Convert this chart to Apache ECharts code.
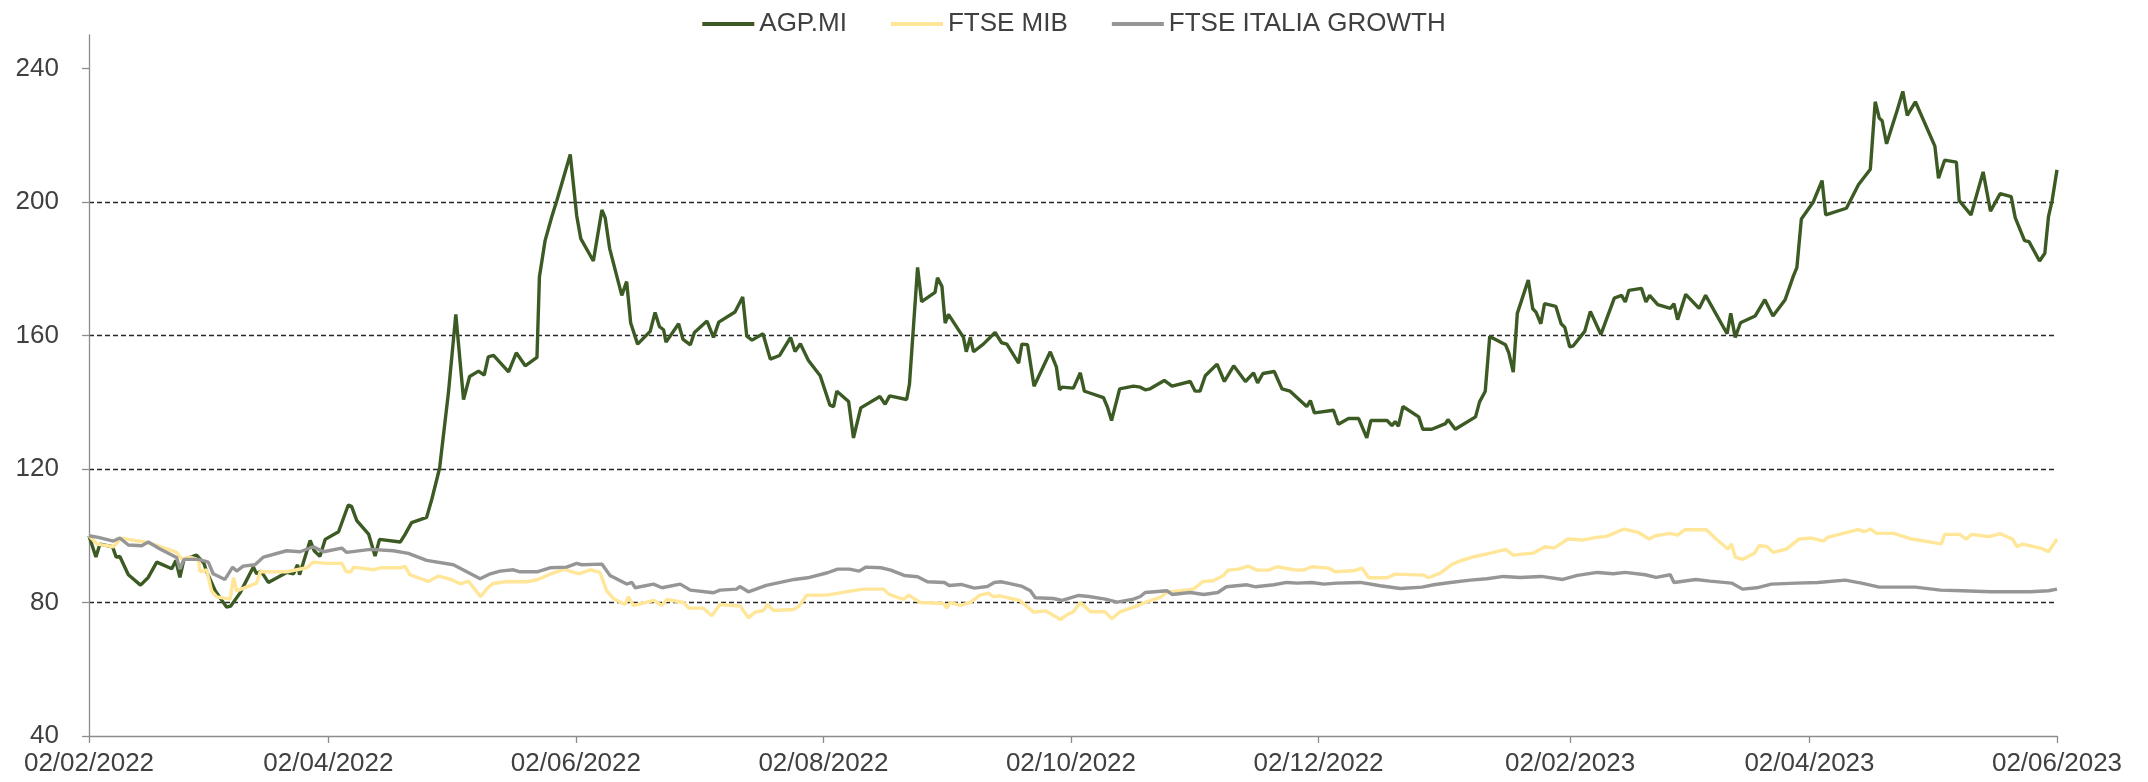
<!DOCTYPE html>
<html>
<head>
<meta charset="utf-8">
<title>AGP.MI vs FTSE MIB vs FTSE ITALIA GROWTH</title>
<script src="https://cdn.jsdelivr.net/npm/echarts@6/dist/echarts.min.js"></script>
<style>
  html, body { margin: 0; padding: 0; background: #fff; }
  #main { width: 2148px; height: 782px; }
</style>
</head>
<body>
<div id="main"></div>
<script>
// rebased to 100 on 02/02/2022, x = days since that date
var startDate = '2022-02-02';
var tickDates = ['2022-02-02', '2022-04-02', '2022-06-02', '2022-08-02', '2022-10-02',
                 '2022-12-02', '2023-02-02', '2023-04-02', '2023-06-02'];
var tickLabels = ['02/02/2022', '02/04/2022', '02/06/2022', '02/08/2022', '02/10/2022',
                  '02/12/2022', '02/02/2023', '02/04/2023', '02/06/2023'];
var yTicks = [40, 80, 120, 160, 200, 240];
var seriesNames = ['AGP.MI', 'FTSE MIB', 'FTSE ITALIA GROWTH'];

var dayAGP = [
  0, 1.7, 2.7, 5.8, 6.7, 7.6, 9.7, 12.7, 14.6, 16.7,
  20.4, 21.4, 22.4, 23.4, 26.5, 28.3, 29, 31.1, 33.9, 34.9,
  37.2, 40.5, 41.3, 42.4, 44.2, 48.7, 50.4, 51.4, 51.9, 54.5,
  55.5, 56.9, 58.2, 61.5, 63.9, 64.7, 66, 68.9, 70.5, 71.6,
  76.7, 77.9, 79.5, 83.2, 84.5, 86.4, 88.6, 90.4, 92.3, 93.8,
  96, 97.4, 98.4, 99.7, 103.4, 105.3, 107.5, 110.4, 111, 112.4,
  114.1, 115.3, 118.6, 120.2, 121.2, 124.3, 126.4, 127.2, 128.3, 131.3,
  132.5, 133.5, 135.2, 138.3, 139.5, 140.6, 141.6, 142.2, 145.3, 146.4,
  148.2, 149.2, 152.3, 153.9, 155.2, 159.2, 161.1, 162.1, 163.4, 166.1,
  167.9, 170.2, 172.9, 174, 175.3, 177.3, 180.2, 182.6, 183.5, 184.3,
  187.2, 188.4, 190.2, 194.9, 196.2, 197.3, 201.5, 202.2, 204.2, 205.2,
  208.5, 209.1, 210.2, 211, 211.8, 215.5, 216.2, 217.2, 218, 220.4,
  223.3, 224.9, 226.2, 229.1, 229.9, 231.3, 232.9, 236.9, 238.4, 239.2,
  239.8, 242.6, 244.3, 245.3, 246.3, 250, 251, 252, 254, 257.4,
  259.1, 260.3, 261.5, 265, 266.9, 271.4, 272.6, 273.8, 275.1, 278,
  279.8, 282.1, 285, 287, 288, 289.3, 292.1, 294, 296, 300.1,
  301, 302, 306.7, 307.9, 310.4, 312.9, 314.9, 315.9, 319.9, 321.1,
  321.9, 322.7, 323.8, 327.7, 328.7, 330.9, 334.3, 334.9, 336.7, 337.9,
  341.7, 342.7, 344.1, 345.2, 349.1, 349.9, 351, 352, 354.7, 355.8,
  356.6, 357.8, 358.7, 361.5, 362.8, 363.7, 364.9, 365.8, 368.6, 370,
  372.6, 375.9, 377.7, 378.6, 379.5, 382.6, 383.7, 384.6, 386.6, 389.7,
  390.6, 391.5, 393.5, 396.8, 398.4, 403.7, 404.6, 405.7, 407, 410.6,
  413, 415, 418, 420, 420.9, 422, 424.9, 427.1, 428, 433.1,
  436.1, 439, 440.2, 441.2, 441.9, 443, 445.6, 447, 448.1, 450.1,
  454.9, 455.8, 457.3, 460.2, 460.9, 463.8, 466.8, 468.6, 471, 473.7,
  474.7, 477, 478.1, 480.7, 482, 482.9, 483.8, 485
];
var valAGP = [
  100, 93.6, 97.5, 96.7, 93.6, 93.8, 88.3, 85.2, 87.5, 92.1,
  90.1, 92.6, 87.5, 92.9, 94.2, 91.8, 89.2, 83.5, 78.6, 78.9,
  82.8, 90.6, 88.6, 89.4, 86, 89, 88.6, 91.3, 88.3, 98.6,
  95.5, 93.8, 98.9, 101.2, 109.2, 108.8, 104.5, 100.5, 93.9, 98.9,
  98.1, 100.4, 103.9, 105.5, 111, 120.2, 143.1, 166.3, 140.8, 147.7,
  149.3, 148.1, 153.6, 154, 149.1, 154.8, 150.9, 153.4, 177.5, 188.4,
  195.8, 200.4, 214.2, 195.8, 189, 182.3, 197.6, 195.3, 186.1, 172,
  176.1, 163.7, 157.4, 161.2, 166.9, 162.6, 161.7, 158, 163.5, 158.8,
  157.2, 160.9, 164.3, 159.4, 164, 167, 171.5, 159.8, 158.6, 160.5,
  152.9, 154, 159.4, 155.2, 157.5, 152.5, 147.9, 139.1, 138.7, 143.3,
  140.2, 129.3, 138.3, 141.7, 139.4, 141.9, 140.8, 145.4, 180.4, 170.1,
  172.9, 177.3, 174.7, 163.7, 166.3, 159.4, 155.1, 159.4, 155.1, 157.4,
  160.9, 157.8, 157.4, 151.7, 157.4, 157.2, 144.8, 155.1, 150.6, 143.7,
  144.5, 144.2, 148.8, 143.3, 142.9, 141.4, 138.5, 134.5, 144, 144.8,
  144.5, 143.7, 144, 146.5, 144.8, 146.2, 143.3, 143.3, 147.9, 151.4,
  146.2, 150.9, 146.2, 148.8, 145.8, 148.6, 149.2, 144, 143.3, 138.7,
  140.5, 136.8, 137.6, 133.4, 135.1, 135.1, 129.3, 134.5, 134.5, 133,
  134.2, 132.8, 138.7, 135.6, 131.9, 131.9, 133.6, 134.8, 131.9, 132.8,
  135.6, 140.1, 143.3, 159.7, 157.2, 154.8, 149, 166.6, 176.6, 168,
  167, 163.5, 169.5, 168.7, 163.5, 162.4, 156.6, 156.9, 161.2, 167.2,
  160.3, 171.2, 172, 170, 173.5, 174.1, 170, 172, 169.2, 168.1,
  169.5, 164.7, 172.3, 168.1, 172, 160.5, 166.6, 159.4, 163.8, 165.8,
  170.7, 165.8, 170.7, 177.7, 180.4, 194.9, 199.9, 206.4, 196.1, 198.1,
  205.2, 209.8, 230, 225.1, 224.3, 217.4, 227.4, 233.1, 225.9, 230,
  216.7, 207.1, 212.5, 211.9, 200.4, 196.1, 209, 197.2, 202.5, 201.6,
  195.3, 188.4, 188.1, 182.3, 184.6, 195.6, 200.4, 209.6
];

var dayMIB = [
  0, 2, 6, 8, 11, 13.8, 17, 21.6, 22.8, 25,
  27, 27.4, 29, 30.2, 31.5, 34.8, 35.6, 36.4, 41.3, 42.2,
  48.7, 53.7, 55.3, 58.6, 62.3, 63.4, 64.5, 65.2, 70.1, 71.8,
  76.7, 77.9, 79.1, 83.6, 86.1, 89, 91.5, 93.5, 96.5, 98.4,
  99.7, 103, 107.9, 110.5, 113.6, 117.3, 118.9, 120.9, 123.5, 125.9,
  127.6, 129.2, 132.1, 132.9, 134.2, 139.2, 141.2, 142.4, 146.5, 147.8,
  151.4, 153.5, 155.5, 160.5, 162.5, 164.2, 166.2, 167.2, 168.7, 173.6,
  174.9, 176.9, 181.8, 187.6, 190.9, 195.8, 197.1, 200.7, 202, 204.9,
  210.6, 211.4, 212.2, 214.7, 217.2, 219.6, 221.7, 222.9, 224.5, 229.4,
  232.8, 235.7, 239.4, 241, 242.6, 244.3, 246.8, 250.4, 252.1, 254.1,
  257.4, 260.3, 264, 265.6, 268.9, 272.2, 274.5, 277, 279.5, 280.7,
  283.3, 285.7, 287.8, 290.7, 292.8, 296.9, 299.3, 301.4, 305.5, 307.1,
  311.7, 313.7, 315.4, 319.9, 321.9, 328.9, 330.1, 333, 335.9, 338,
  341.3, 345.4, 349.1, 351, 352.6, 356, 358.8, 361, 364.5, 368,
  371.5, 374, 378.3, 382, 384.5, 386, 389.7, 391.5, 393.3, 398.6,
  401, 403.9, 404.8, 405.7, 407.5, 410.5, 411.6, 413.5, 415, 418.3,
  421.4, 424.5, 427.5, 428.4, 436, 437.5, 439.1, 440.5, 444.8, 449.2,
  455.4, 456.5, 457.3, 461, 462.6, 464, 468.4, 471, 474, 475.2,
  476.5, 481.2, 482.9, 485
];
var valMIB = [
  100, 97.5, 96.7, 99.3, 98.6, 98.1, 97, 95, 93, 93.6,
  92.6, 89.2, 89.8, 83.5, 81.7, 81, 87.4, 83.5, 85.8, 89.2,
  89.2, 90.4, 92.1, 91.7, 91.7, 89.2, 89.2, 90.6, 89.8, 90.4,
  90.4, 90.8, 88.3, 86.3, 87.9, 87, 85.6, 86.4, 81.7, 84.6,
  85.7, 86.3, 86.2, 86.8, 88.5, 90, 89.2, 88.6, 89.8, 89,
  83.5, 81.2, 79.4, 81.7, 79.1, 80.6, 79.1, 80.9, 80, 78.3,
  78.3, 76, 79.4, 78.9, 75.4, 77.1, 77.6, 79.4, 77.6, 77.9,
  78.8, 82.2, 82.2, 83.4, 84, 84, 82.5, 80.9, 82.2, 80,
  79.7, 78.3, 80, 79.1, 80, 82.2, 82.8, 81.7, 82, 80.6,
  77.1, 77.5, 74.9, 76.3, 77.2, 80, 77.2, 77.2, 75.1, 77.2,
  78.6, 80, 81.5, 83.1, 83.5, 84, 86.3, 86.5, 88, 89.7,
  90, 90.9, 89.7, 89.7, 90.7, 89.8, 89.7, 90.7, 90.3, 89.2,
  89.5, 90.3, 87.4, 87.4, 88.5, 88.2, 87.4, 88.8, 91.4, 92.5,
  93.7, 94.8, 95.9, 94.2, 94.4, 94.8, 96.7, 96.3, 99, 98.7,
  99.5, 99.8, 102, 100.9, 99, 100, 100.7, 100.2, 101.8, 101.8,
  99, 96, 97.5, 93.6, 92.9, 94.8, 97, 96.8, 95, 96,
  99, 99.3, 98.4, 99.5, 101.8, 101.2, 102, 100.7, 100.7, 99,
  97.8, 97.5, 100.4, 100.4, 99, 100.4, 99.7, 100.6, 99, 96.7,
  97.5, 96.2, 95.2, 99
];

var dayGRW = [
  0, 2.3, 6, 7.6, 9.7, 13, 14.6, 17.5, 21.6, 22.4,
  23.4, 27, 29.4, 30.6, 33.5, 35.4, 36.4, 38, 40.9, 43,
  48.7, 52, 55.3, 57.8, 62.3, 63.5, 69.3, 75, 78.7, 83.2,
  89.8, 93.1, 96.4, 98.9, 101.3, 104.6, 106.2, 110.4, 113.6, 117.7,
  120.2, 121.4, 126.4, 128.4, 132.5, 133.8, 134.6, 139.1, 141.2, 145.7,
  148.2, 153.9, 155.5, 159.6, 160.4, 162.5, 166.9, 173.8, 177.1, 182,
  184.5, 187.4, 189.8, 191.5, 195.2, 197.6, 200.9, 204.2, 206.6, 210.8,
  212, 214.9, 218.2, 221.4, 223.1, 224.7, 226.7, 230, 232, 233.2,
  237.7, 239.8, 243.9, 246.4, 250.5, 253.4, 257.4, 259.1, 260.3, 265.7,
  266.9, 271.4, 274.7, 278.2, 280.3, 285.4, 287.5, 292, 295.2, 297.7,
  301.4, 304.3, 307.5, 313.3, 318.2, 323.2, 328.5, 331.4, 335.5, 340.4,
  344.5, 348.6, 352.7, 357.9, 363.2, 366.8, 371.7, 375.7, 378.6, 383.5,
  386.2, 389.7, 390.6, 396, 399.5, 404.8, 407.5, 411, 414.6, 420.8,
  426.1, 432.8, 436.8, 441.2, 450.1, 456.3, 461.6, 468.7, 478.4, 482.9,
  485
];
var valGRW = [
  100, 99.5, 98.4, 99.3, 97.2, 97, 98.1, 96, 93.5, 90,
  92.9, 92.9, 92.1, 88.6, 86.9, 90.6, 89.4, 90.9, 91.3, 93.6,
  95.5, 95.2, 96.7, 95.2, 96.3, 95, 95.9, 95.5, 94.7, 92.6,
  91.3, 89.2, 87.1, 88.6, 89.4, 89.8, 89.2, 89.2, 90.4, 90.6,
  91.7, 91.3, 91.5, 88.1, 85.5, 86, 84.4, 85.5, 84.4, 85.5,
  83.7, 82.9, 83.7, 84, 84.8, 83.2, 85.1, 86.9, 87.4, 88.9,
  90, 90, 89.4, 90.6, 90.4, 89.7, 88.1, 87.7, 86.2, 86,
  85.1, 85.4, 84.3, 84.8, 86, 86.2, 85.7, 84.8, 83.5, 81.4,
  81.2, 80.6, 82.1, 81.8, 81, 80.1, 81, 81.8, 83, 83.5,
  82.4, 83, 82.4, 83, 84.7, 85.3, 84.7, 85.3, 86, 85.8,
  86, 85.5, 85.8, 86, 85, 84.2, 84.6, 85.3, 86, 86.7,
  87.1, 87.8, 87.5, 87.8, 86.9, 88.1, 89, 88.6, 89, 88.3,
  87.5, 88.3, 86, 86.9, 86.4, 85.8, 84, 84.4, 85.5, 85.8,
  86, 86.7, 85.8, 84.6, 84.6, 83.7, 83.5, 83.2, 83.2, 83.5,
  84
];

var tickDays = tickDates.map(function (s) {
  return (Date.parse(s) - Date.parse(startDate)) / 86400000;
});

function pairs(days, vals) {
  return days.map(function (d, i) { return [d, vals[i]]; });
}

var textColor = '#404040';
var axisColor = '#8c8c8c';
var font = '"Liberation Sans", Arial, sans-serif';

var myChart = echarts.init(document.getElementById('main'));
var option = {
    animation: false,
    backgroundColor: '#ffffff',
    textStyle: { fontFamily: font },
    legend: {
        top: 6,
        left: 'center',
        icon: 'rect',
        itemWidth: 52,
        itemHeight: 4,
        itemGap: 44,
        textStyle: { color: textColor, fontSize: 26, fontFamily: font },
        data: seriesNames
    },
    grid: { left: 89, right: 91, top: 35, bottom: 46 },
    xAxis: {
        type: 'value',
        min: 0,
        max: tickDays[tickDays.length - 1],
        axisLine: { show: true, onZero: false, lineStyle: { color: axisColor, width: 1.3 } },
        axisTick: { show: true, customValues: tickDays, length: 7, lineStyle: { color: axisColor, width: 1.3 } },
        axisLabel: {
            customValues: tickDays,
            formatter: function (v) { return tickLabels[tickDays.indexOf(v)]; },
            color: textColor, fontSize: 26, fontFamily: font, margin: 15
        },
        splitLine: { show: false }
    },
    yAxis: {
        type: 'value',
        min: 40,
        max: 250,
        interval: 40,
        axisLine: { show: true, lineStyle: { color: axisColor, width: 1.3 } },
        axisTick: { show: true, customValues: yTicks, length: 7, lineStyle: { color: axisColor, width: 1.3 } },
        axisLabel: { customValues: yTicks, color: textColor, fontSize: 26, fontFamily: font, margin: 30 },
        splitLine: {
            show: true, showMinLine: false, showMaxLine: false,
            lineStyle: { color: '#262626', type: [5, 3], width: 1.4 }
        }
    },
    series: [
        {
            name: seriesNames[0], type: 'line', showSymbol: false, symbol: 'none',
            lineStyle: { width: 3.4, color: '#3c5b24' }, itemStyle: { color: '#3c5b24' },
            data: pairs(dayAGP, valAGP)
        },
        {
            name: seriesNames[1], type: 'line', showSymbol: false, symbol: 'none',
            lineStyle: { width: 3.4, color: '#ffe699' }, itemStyle: { color: '#ffe699' },
            data: pairs(dayMIB, valMIB)
        },
        {
            name: seriesNames[2], type: 'line', showSymbol: false, symbol: 'none',
            lineStyle: { width: 3.4, color: '#969696' }, itemStyle: { color: '#969696' },
            data: pairs(dayGRW, valGRW)
        }
    ]
};

myChart.setOption(option);
</script>
</body>
</html>
